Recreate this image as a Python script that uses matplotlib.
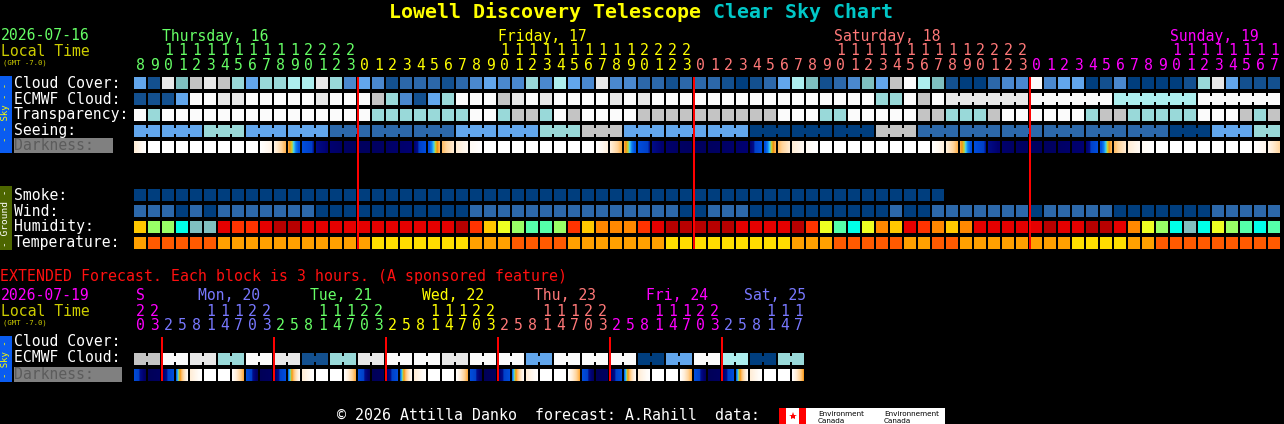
import matplotlib
matplotlib.use("Agg")
import matplotlib.pyplot as plt
from matplotlib.colors import LinearSegmentedColormap

# ---------------- data ----------------
start_hour = 8
day_names = ["Thursday, 16", "Friday, 17", "Saturday, 18", "Sunday, 19"]
day_colors = ["#66ff66", "#ffff00", "#ff7878", "#ff00ff"]

cloud_cover = [4, 1, 9, 5, 8, 9, 8, 6, 4, 6,
               6, 7, 7, 9, 6, 3, 4, 3, 1, 2,
               2, 2, 1, 2, 3, 4, 3, 3, 6, 3,
               7, 4, 3, 9, 3, 3, 2, 2, 1, 2,
               2, 2, 1, 0, 1, 2, 4, 7, 5, 1,
               2, 3, 5, 4, 8, 10, 7, 5, 1, 0,
               0, 2, 3, 3, 10, 3, 4, 4, 0, 1,
               3, 0, 0, 0, 0, 1, 6, 9, 4, 1,
               1, 1]
ecmwf_cloud = [1, 1, 1, 4, 10, 10, 9, 9, 10, 10,
               10, 10, 10, 9, 10, 10, 10, 8, 6, 3,
               1, 4, 6, 10, 10, 10, 8, 9, 10, 9,
               10, 10, 10, 10, 9, 10, 9, 10, 10, 10,
               10, 10, 10, 10, 10, 10, 10, 10, 10, 10,
               10, 10, 10, 6, 6, 10, 8, 10, 9, 9,
               9, 9, 9, 9, 10, 10, 10, 10, 10, 10,
               7, 7, 7, 7, 7, 7, 10, 10, 10, 10,
               10, 10]
transparency = [10, 6, 10, 10, 10, 10, 10, 10, 10, 10,
                10, 10, 10, 10, 10, 10, 10, 6, 6, 6,
                6, 6, 6, 6, 10, 10, 6, 8, 8, 6,
                10, 8, 10, 10, 10, 10, 8, 8, 8, 8,
                8, 8, 8, 8, 8, 8, 10, 10, 10, 6,
                6, 10, 10, 10, 10, 10, 8, 8, 6, 6,
                6, 8, 10, 10, 10, 10, 10, 10, 6, 8,
                8, 6, 6, 6, 6, 6, 10, 10, 10, 8,
                6, 8]
seeing = [4, 4, 4, 4, 4, 6, 6, 6, 4, 4,
          4, 4, 4, 4, 2, 2, 2, 2, 2, 2,
          2, 2, 2, 4, 4, 4, 4, 4, 4, 6,
          6, 6, 8, 8, 8, 4, 4, 4, 4, 4,
          4, 4, 4, 4, 0, 0, 0, 0, 0, 0,
          0, 0, 0, 8, 8, 8, 2, 2, 2, 2,
          2, 2, 2, 2, 2, 2, 2, 2, 2, 2,
          2, 2, 2, 2, 0, 0, 0, 4, 4, 4,
          6, 6]
darkness = [0.12, 0, 0, 0, 0, 0, 0, 0, 0, 0,
            0.08, 0.30, 0.55, 0.80, 0.90, 0.95, 0.97, 0.97, 0.95, 0.92,
            0.90, 0.55, 0.28, 0.12, 0.04, 0, 0, 0, 0, 0,
            0, 0, 0, 0, 0.10, 0.30, 0.55, 0.80, 0.92, 0.95,
            0.97, 0.97, 0.95, 0.92, 0.90, 0.55, 0.28, 0.12, 0.04, 0,
            0, 0, 0, 0, 0, 0, 0, 0, 0.10, 0.30,
            0.55, 0.80, 0.92, 0.95, 0.97, 0.97, 0.95, 0.92, 0.90, 0.55,
            0.28, 0.12, 0.04, 0, 0, 0, 0, 0, 0, 0,
            0, 0.06, 0.22]
smoke = [0, 0, 0, 0, 0, 0, 0, 0, 0, 0,
         0, 0, 0, 0, 0, 0, 0, 0, 0, 0,
         0, 0, 0, 0, 0, 0, 0, 0, 0, 0,
         0, 0, 0, 0, 0, 0, 0, 0, 0, 0,
         0, 0, 0, 0, 0, 0, 0, 0, 0, 0,
         0, 0, 0, 0, 0, 0, 0, 0]
wind = [2, 2, 2, 0, 2, 0, 2, 2, 2, 2,
        2, 2, 2, 0, 0, 0, 0, 0, 0, 0,
        0, 0, 0, 0, 2, 2, 2, 2, 2, 2,
        2, 2, 2, 2, 2, 2, 2, 2, 2, 0,
        0, 2, 2, 2, 0, 0, 0, 0, 0, 0,
        0, 0, 0, 0, 2, 0, 0, 2, 2, 2,
        2, 2, 2, 2, 0, 2, 2, 2, 2, 2,
        0, 0, 0, 0, 0, 0, 0, 2, 2, 2,
        2, 2]
humidity = [4, 6, 6, 8, 9, 9, 1, 2, 2, 1,
            0, 0, 1, 1, 1, 1, 1, 1, 1, 1,
            1, 1, 1, 0, 2, 4, 5, 6, 7, 7,
            6, 2, 4, 3, 3, 3, 2, 1, 0, 0,
            0, 0, 0, 1, 1, 1, 1, 0, 2, 5,
            7, 8, 5, 3, 4, 1, 2, 3, 4, 3,
            1, 1, 1, 1, 1, 0, 1, 1, 0, 0,
            1, 3, 5, 6, 8, 9, 8, 5, 6, 7,
            8, 7]
temperature = [1, 0, 0, 0, 0, 0, 1, 1, 1, 1,
               1, 1, 1, 1, 1, 1, 1, 2, 2, 2,
               2, 2, 2, 2, 1, 1, 1, 0, 0, 0,
               0, 1, 1, 1, 1, 1, 1, 1, 2, 2,
               2, 2, 2, 2, 2, 2, 2, 1, 1, 1,
               0, 0, 0, 0, 0, 1, 1, 0, 0, 1,
               1, 1, 1, 1, 1, 1, 1, 2, 2, 2,
               2, 1, 1, 0, 0, 0, 0, 0, 0, 0,
               0, 0]

# extended forecast (3-hour blocks)
ext_day_names = ["S", "Mon, 20", "Tue, 21", "Wed, 22", "Thu, 23", "Fri, 24", "Sat, 25"]
ext_day_colors = ["#ff00ff", "#7878ff", "#66ff66", "#ffff00", "#ff7878", "#ff00ff", "#7878ff"]
ext_day_hours = [[20, 23],
                 [2, 5, 8, 11, 14, 17, 20, 23],
                 [2, 5, 8, 11, 14, 17, 20, 23],
                 [2, 5, 8, 11, 14, 17, 20, 23],
                 [2, 5, 8, 11, 14, 17, 20, 23],
                 [2, 5, 8, 11, 14, 17, 20, 23],
                 [2, 5, 8, 11, 14, 17]]
ext_label_cell = [0, 2, 2, 2, 2, 2, 1]
ext_ecmwf = [8, 10, 9, 6, 10, 9, 1, 6, 9, 10, 10, 9,
             10, 10, 4, 10, 10, 10, 0, 4, 10, 7, 0, 6]
ext_dark_start = [0.60, 1.00,
                  0.95, 0.50, 0.12, 0, 0, 0, 0.55, 1.00,
                  0.95, 0.50, 0.12, 0, 0, 0, 0.55, 1.00,
                  0.95, 0.50, 0.12, 0, 0, 0, 0.55, 1.00,
                  0.95, 0.50, 0.12, 0, 0, 0, 0.55, 1.00,
                  0.95, 0.50, 0.12, 0, 0, 0, 0.55, 1.00,
                  0.95, 0.50, 0.12, 0, 0, 0]
ext_dark_end = [0.98, 0.97,
                0.55, 0.02, 0, 0, 0, 0.32, 0.98, 0.97,
                0.55, 0.02, 0, 0, 0, 0.32, 0.98, 0.97,
                0.55, 0.02, 0, 0, 0, 0.32, 0.98, 0.97,
                0.55, 0.02, 0, 0, 0, 0.32, 0.98, 0.97,
                0.55, 0.02, 0, 0, 0, 0.32, 0.98, 0.97,
                0.55, 0.02, 0, 0, 0, 0.34]

# ---------------- styles ----------------
sky_pal = ["#003E7E", "#13508F", "#2C68AA", "#4A88CE", "#62A6EC", "#7FBFBF",
           "#99D9D9", "#ADEEEE", "#C4C4C4", "#E8E8E8", "#FBFBFB"]
hum_pal = ["#B80000", "#E50000", "#FF3300", "#FF8800", "#FFC800",
           "#EEFF22", "#99FF66", "#55FFAA", "#00FFE8", "#80C0C0"]
temp_pal = ["#FF5A00", "#FFA000", "#FFDD00"]
dark_cmap = LinearSegmentedColormap.from_list("dark", [
    (0.00, "#ffffff"), (0.05, "#fff8f0"), (0.12, "#ffecd4"), (0.22, "#ffd49c"),
    (0.30, "#ffb048"), (0.34, "#f09010"), (0.38, "#c8d030"), (0.42, "#40d0f0"),
    (0.46, "#1080f0"), (0.52, "#0050e0"), (0.75, "#0040c8"), (0.80, "#000c88"),
    (0.90, "#000070"), (1.00, "#000058")])

MONO = "DejaVu Sans Mono"
FS = 10.6
X0, P, CW = 134, 14, 12

fig = plt.figure(figsize=(12.84, 4.24), dpi=100, facecolor="black")
ax = fig.add_axes([0, 0, 1, 1])
ax.set_xlim(0, 1284)
ax.set_ylim(424, 0)
ax.axis("off")


def txt(x, y, s, color, size=FS, **kw):
    ax.text(x, y, s, color=color, fontsize=size, family=MONO, va="baseline", **kw)


def cells(values, palette, top, bridge=None):
    n = len(values)
    xs = [X0 + i * P for i in range(n)]
    ax.bar(xs, CW, width=CW, bottom=top, align="edge",
           color=[palette[v] for v in values], linewidth=0, antialiased=False)
    if bridge is not None:
        bx, bc = [], []
        for i in range(n - 1):
            if values[i] == values[i + 1] and bridge(i):
                bx.append(X0 + i * P + CW)
                bc.append(palette[values[i]])
        if bx:
            ax.bar(bx, 6, width=P - CW, bottom=top + 3, align="edge",
                   color=bc, linewidth=0, antialiased=False)


def dark_cells(starts, ends, top, x0=X0):
    sub = 12
    xs, cs = [], []
    for i in range(len(starts)):
        for k in range(sub):
            f = (k + 0.5) / sub
            v = starts[i] + (ends[i] - starts[i]) * f
            xs.append(x0 + i * P + k * CW / sub)
            cs.append(dark_cmap(v))
    ax.bar(xs, CW, width=CW / sub, bottom=top, align="edge", color=cs,
           linewidth=0, antialiased=False)


ncol = len(cloud_cover)
hours = [(start_hour + i) % 24 for i in range(ncol)]
day_idx = []
d = 0
for i in range(ncol):
    if i > 0 and hours[i] == 0:
        d += 1
    day_idx.append(d)

# ---------------- title ----------------
ax.text(389, 17.5, "Lowell Discovery Telescope", color="#ffff00", fontsize=14.35,
        family=MONO, weight="bold", va="baseline")
ax.text(713, 17.5, "Clear Sky Chart", color="#00c8c8", fontsize=14.35,
        family=MONO, weight="bold", va="baseline")

# ---------------- header ----------------
txt(1, 40.5, "2026-07-16", "#66ff66")
txt(1, 55.5, "Local Time", "#cccc00")
txt(3, 64.5, "(GMT -7.0)", "#cccc00", size=5.2)
for i in range(ncol):
    cx = X0 + i * P + 6.5
    col = day_colors[day_idx[i]]
    txt(cx, 70, str(hours[i] % 10), col, ha="center")
    if hours[i] >= 10:
        txt(cx, 55, str(hours[i] // 10), col, ha="center")
    if hours[i] == 10:
        txt(X0 + i * P - 0.5, 40.5, day_names[day_idx[i]], col)

# ---------------- sky rows ----------------
row_tops = [77, 93, 109, 125, 141]
labels = ["Cloud Cover:", "ECMWF Cloud:", "Transparency:", "Seeing:"]
for lab, top in zip(labels, row_tops):
    txt(14, top + 10.5, lab, "white")
ax.bar(14, 15, width=99, bottom=138, align="edge", color="#808080", linewidth=0)
txt(14, 150.5, "Darkness:", "#5c5c5c")

cells(cloud_cover, sky_pal, 77)
cells(ecmwf_cloud, sky_pal, 93, bridge=lambda i: i >= 58)
cells(transparency, sky_pal, 109)
cells(seeing, sky_pal, 125, bridge=lambda i: hours[i + 1] % 3 != 1)
dark_cells(darkness[:ncol], darkness[1:ncol + 1], 141)

# ---------------- ground rows ----------------
g_tops = [189, 205, 221, 237]
g_labels = ["Smoke:", "Wind:", "Humidity:", "Temperature:"]
for lab, top in zip(g_labels, g_tops):
    txt(14, top + 10.5, lab, "white")
cells(smoke, sky_pal, 189)
cells(wind, sky_pal, 205)
cells(humidity, hum_pal, 221)
cells(temperature, temp_pal, 237)

# side strips
ax.bar(0, 77, width=12, bottom=76, align="edge", color="#0a5cf0", linewidth=0)
ax.text(6, 112, "- - Sky - -", color="#ffff00", fontsize=6.5, family=MONO,
        rotation=90, ha="center", va="center")
ax.bar(0, 64, width=12, bottom=186, align="edge", color="#4d6600", linewidth=0)
ax.text(6, 218, "- Ground -", color="white", fontsize=6.8, family=MONO,
        rotation=90, ha="center", va="center")

# midnight lines
mid_cols = [i for i in range(1, ncol) if hours[i] == 0]
ax.bar([X0 + c * P - 1 for c in mid_cols], 172, width=2, bottom=77, align="edge",
       color="#ff0000", linewidth=0, antialiased=False)

# ---------------- extended ----------------
txt(0, 281.5, "EXTENDED Forecast. Each block is 3 hours. (A sponsored feature)",
    "#ff1010", size=10.7)
txt(1, 300.5, "2026-07-19", "#ff00ff")
txt(1, 315.5, "Local Time", "#cccc00")
txt(3, 324.5, "(GMT -7.0)", "#cccc00", size=5.2)

cell_i = 0
ext_mid = []
for dname, dcol, dh, lc in zip(ext_day_names, ext_day_colors, ext_day_hours, ext_label_cell):
    if cell_i > 0:
        ext_mid.append(cell_i)
    lx = X0 + (cell_i + lc) * P + (2 if dname == "S" else 8)
    txt(lx, 300.5, dname, dcol)
    for h in dh:
        cx = X0 + cell_i * P + 6.5
        txt(cx, 330.5, str(h % 10), dcol, ha="center")
        if h >= 10:
            txt(cx, 315.5, str(h // 10), dcol, ha="center")
        cell_i += 1

txt(14, 346.5, "Cloud Cover:", "white")
txt(14, 362.5, "ECMWF Cloud:", "white")
ax.bar(14, 15, width=108, bottom=367, align="edge", color="#808080", linewidth=0)
txt(14, 379, "Darkness:", "#5c5c5c")

# ECMWF 6-hour blocks: two joined cells each
ex_x, ex_c, br_x, br_c = [], [], [], []
for k, v in enumerate(ext_ecmwf):
    for j in range(2):
        ex_x.append(X0 + (2 * k + j) * P)
        ex_c.append(sky_pal[v])
    br_x.append(X0 + 2 * k * P + CW)
    br_c.append(sky_pal[v])
ax.bar(ex_x, CW, width=CW, bottom=353, align="edge", color=ex_c, linewidth=0,
       antialiased=False)
ax.bar(br_x, 6, width=P - CW, bottom=356, align="edge", color=br_c, linewidth=0,
       antialiased=False)
dark_cells(ext_dark_start, ext_dark_end, 369)

ax.bar([X0 + c * P - 1 for c in ext_mid], 44, width=2, bottom=337, align="edge",
       color="#ff0000", linewidth=0, antialiased=False)

ax.bar(0, 46, width=12, bottom=336, align="edge", color="#0a5cf0", linewidth=0)
ax.text(6, 359, "- Sky -", color="#ffff00", fontsize=6.5, family=MONO,
        rotation=90, ha="center", va="center")

# ---------------- footer ----------------
txt(337, 420.5, "\u00a9 2026 Attilla Danko  forecast: A.Rahill  data:", "white", size=10.7)
ax.bar(779, 16, width=166, bottom=408, align="edge", color="white", linewidth=0)
ax.bar([779, 799], 16, width=7, bottom=408, align="edge", color="#ff0000", linewidth=0)
ax.plot([792.5], [415.5], marker="*", color="#ff0000", markersize=6, markeredgewidth=0)
for x0, w1 in [(818, "Environment"), (884, "Environnement")]:
    ax.text(x0, 415.5, w1, color="black", fontsize=5.2, family="DejaVu Sans", va="baseline")
    ax.text(x0, 423, "Canada", color="black", fontsize=5.2, family="DejaVu Sans", va="baseline")

fig.savefig("out.png", dpi=100, facecolor="black")
